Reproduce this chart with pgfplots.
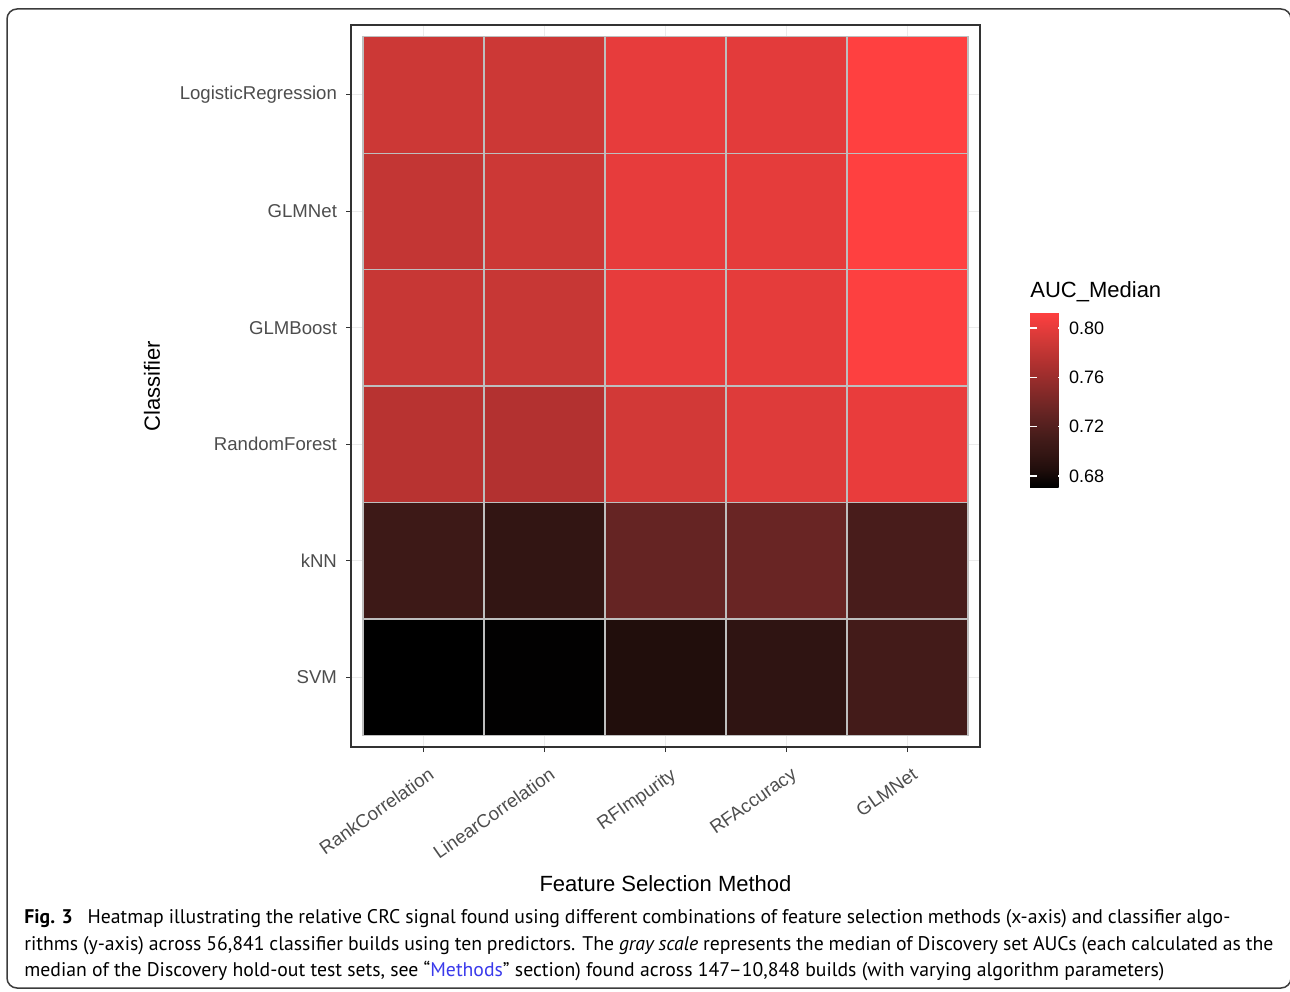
\documentclass[border=0pt]{standalone}
\usepackage{fontspec}
\setmainfont{Liberation Sans}
\newfontfamily\capfont{PT Sans}
\usepackage{pgfplots}
\usepackage{pgfplotstable}
\pgfplotsset{compat=1.18}

\definecolor{axisdark}{RGB}{51,51,51}
\definecolor{ticktext}{RGB}{77,77,77}
\definecolor{gridgray}{RGB}{235,235,235}
\definecolor{tileline}{RGB}{190,190,190}
\definecolor{linkblue}{RGB}{58,58,235}
\definecolor{framegray}{RGB}{60,60,60}

% black -> red ramp, stops read off the tiles
\pgfplotsset{colormap={aucmap}{rgb255(0pt)=(0,0,0) rgb255(105pt)=(33,14,12)
  rgb255(183pt)=(50,21,19) rgb255(272pt)=(66,27,25) rgb255(421pt)=(101,36,35)
  rgb255(715pt)=(178,49,48) rgb255(817pt)=(204,56,54) rgb255(918pt)=(232,60,60)
  rgb255(1000pt)=(255,64,64)}}

% x: feature selection, y: classifier (1 = SVM ... 6 = LogisticRegression)
\pgfplotstableread{
x y auc
1 1 0.671
2 1 0.672
3 1 0.686
4 1 0.695
5 1 0.710
1 2 0.706
2 2 0.697
3 2 0.731
4 2 0.733
5 2 0.713
1 3 0.776
2 3 0.773
3 3 0.790
4 3 0.796
5 3 0.802
1 4 0.784
2 4 0.784
3 4 0.801
4 4 0.800
5 4 0.812
1 5 0.782
2 5 0.787
3 5 0.801
4 5 0.800
5 5 0.813
1 6 0.787
2 6 0.787
3 6 0.801
4 6 0.799
5 6 0.813
}\aucdata

\newlength{\capw}

\begin{document}%
\settowidth{\capw}{\capfont\fontsize{10}{12}\selectfont median of the Discovery hold-out test sets, see “Methods” section) found across 147–10,848 builds (with varying algorithm parameters)}%
\pgfmathsetmacro{\capsize}{10*570/\capw}%
\begin{tikzpicture}
\useasboundingbox (0,0) rectangle (645pt,495.5pt);
\draw[framegray, line width=0.75pt, rounded corners=5pt] (3.5pt,1.5pt) rectangle (645.5pt,491pt);

\begin{axis}[
name=main,
at={(175.5pt,122pt)}, anchor=south west,
scale only axis, width=314.5pt, height=361pt,
xmin=0.4, xmax=5.6, ymin=0.4, ymax=6.6,
xtick={1,2,3,4,5}, ytick={1,2,3,4,5,6},
xticklabels={RankCorrelation,LinearCorrelation,RFImpurity,RFAccuracy,GLMNet},
yticklabels={SVM,kNN,RandomForest,GLMBoost,GLMNet,LogisticRegression},
tick align=outside, tick pos=left,
major tick length=2.5pt,
tick style={axisdark, line width=0.55pt},
axis line style={axisdark, line width=0.6pt},
grid=major, grid style={gridgray, line width=0.6pt},
ticklabel style={font=\fontsize{9.3}{11}\selectfont, ticktext},
yticklabel style={xshift=-1pt},
xticklabel style={rotate=35, anchor=north east, inner sep=1pt, yshift=-6pt, xshift=-1.5pt},
colormap name=aucmap,
point meta min=0.671, point meta max=0.813,
colorbar,
colorbar style={
  at={(parent axis.north east)}, anchor=north west,
  xshift=16.5pt, yshift=-143.5pt,
  scale only axis, width=17.5pt, height=87.5pt,
  axis line style={draw=none},
  grid=none,
  ytick={0.68,0.72,0.76,0.80},
  yticklabels={0.68,0.72,0.76,0.80},
  ytick pos=both, yticklabel pos=right,
  tick align=inside, major tick length=3.5pt,
  tick style={white, line width=0.6pt},
  yticklabel style={font=\fontsize{9}{11}\selectfont, black, xshift=-1.5pt},
},
]
\addplot[matrix plot*, mesh/cols=5, point meta=explicit, draw=tileline, line width=0.6pt]
  table[x=x, y=y, meta=auc] {\aucdata};
\end{axis}

\node[anchor=base west, inner sep=0, font=\fontsize{11}{13}\selectfont] at (515pt,346.5pt) {AUC\_Median};
\node[rotate=90, inner sep=0, font=\fontsize{11}{13}\selectfont] at (76pt,302.5pt) {Classifier};
\node[anchor=base, inner sep=0, font=\fontsize{11}{13}\selectfont] at (332.75pt,50pt) {Feature Selection Method};

\node[anchor=base west, inner sep=0] at (12pt,34pt) {\capfont\fontsize{\capsize}{12}\selectfont\makebox[603pt][s]{\textbf{Fig. 3}\hspace{0.5em} Heatmap illustrating the relative CRC signal found using different combinations of feature selection methods (x-axis) and classifier algo-}};
\node[anchor=base west, inner sep=0] at (12pt,20.5pt) {\capfont\fontsize{\capsize}{12}\selectfont\makebox[624.5pt][s]{rithms (y-axis) across 56,841 classifier builds using ten predictors. The \textit{gray scale} represents the median of Discovery set AUCs (each calculated as the}};
\node[anchor=base west, inner sep=0] at (12pt,7.5pt) {\capfont\fontsize{\capsize}{12}\selectfont median of the Discovery hold-out test sets, see “\textcolor{linkblue}{Methods}” section) found across 147–10,848 builds (with varying algorithm parameters)};
\end{tikzpicture}%
\end{document}
